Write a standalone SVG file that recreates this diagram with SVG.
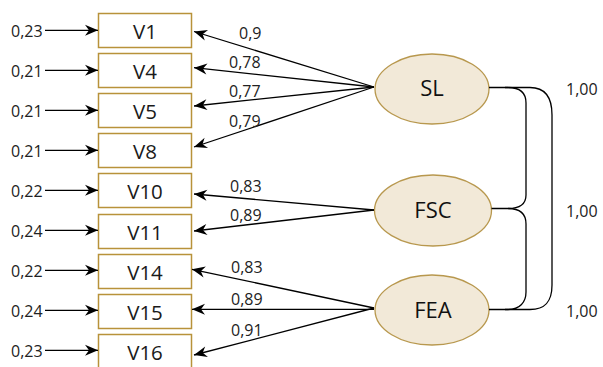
<svg xmlns="http://www.w3.org/2000/svg" width="603" height="367" viewBox="0 0 603 367">
  <style>
    .box { fill: #ffffff; stroke: #b8923a; stroke-width: 1.5; }
    .lat { fill: #f2e9d8; stroke: #b8984e; stroke-width: 1.3; }
    .vlab { font-family: "Open Sans", "Liberation Sans", sans-serif; font-size: 20.5px; fill: #1a1a1a; text-anchor: middle; }
    .llab { font-family: "Open Sans", "Liberation Sans", sans-serif; font-size: 22px; fill: #111; text-anchor: middle; }
    .num { font-family: "Open Sans", "Liberation Sans", sans-serif; font-size: 16px; fill: #222; }
    .edge { stroke: #000; stroke-width: 1.3; fill: none; marker-end: url(#arr); }
    .cov { stroke: #000; stroke-width: 1.3; fill: none; }
  </style>
  <defs>
    <marker id="arr" markerWidth="16" markerHeight="12" viewBox="-14 -6 16 12" refX="0" refY="0" orient="auto" markerUnits="userSpaceOnUse">
      <path d="M0,0 L-13,-5.5 L-9,0 L-13,5.5 Z" fill="#000"/>
    </marker>
  </defs>

  <!-- observed variables -->
  <g id="V1"><rect class="box" x="98.5" y="13.5" width="93" height="34"/><text class="vlab" x="145" y="38.7">V1</text></g>
  <g id="V4"><rect class="box" x="98.5" y="53.5" width="93" height="34"/><text class="vlab" x="145" y="78.7">V4</text></g>
  <g id="V5"><rect class="box" x="98.5" y="93.5" width="93" height="34"/><text class="vlab" x="145" y="118.7">V5</text></g>
  <g id="V8"><rect class="box" x="98.5" y="133.5" width="93" height="34"/><text class="vlab" x="145" y="158.7">V8</text></g>
  <g id="V10"><rect class="box" x="98.5" y="173.5" width="93" height="34"/><text class="vlab" x="145" y="198.7">V10</text></g>
  <g id="V11"><rect class="box" x="98.5" y="214.5" width="93" height="34"/><text class="vlab" x="145" y="239.7">V11</text></g>
  <g id="V14"><rect class="box" x="98.5" y="254.5" width="93" height="34"/><text class="vlab" x="145" y="279.7">V14</text></g>
  <g id="V15"><rect class="box" x="98.5" y="294.5" width="93" height="34"/><text class="vlab" x="145" y="319.7">V15</text></g>
  <g id="V16"><rect class="box" x="98.5" y="334.5" width="93" height="34"/><text class="vlab" x="145" y="359.7">V16</text></g>

  <!-- latent factors -->
  <g id="SL"><ellipse class="lat" cx="432" cy="89" rx="57" ry="35"/><text class="llab" x="432" y="96">SL</text></g>
  <g id="FSC"><ellipse class="lat" cx="433" cy="210.5" rx="58.5" ry="35.5"/><text class="llab" x="433" y="217.5">FSC</text></g>
  <g id="FEA"><ellipse class="lat" cx="432" cy="310" rx="57" ry="35"/><text class="llab" x="433" y="318">FEA</text></g>

  <!-- connectors -->
  <g id="connectors">
    <!-- error terms -->
    <line class="edge" x1="45" y1="30.3" x2="98" y2="30.3"/>
    <line class="edge" x1="45" y1="70.3" x2="98" y2="70.3"/>
    <line class="edge" x1="45" y1="110.3" x2="98" y2="110.3"/>
    <line class="edge" x1="45" y1="150.3" x2="98" y2="150.3"/>
    <line class="edge" x1="45" y1="190.3" x2="98" y2="190.3"/>
    <line class="edge" x1="45" y1="230.3" x2="98" y2="230.3"/>
    <line class="edge" x1="45" y1="270.3" x2="98" y2="270.3"/>
    <line class="edge" x1="45" y1="310.3" x2="98" y2="310.3"/>
    <line class="edge" x1="45" y1="350.3" x2="98" y2="350.3"/>
    <!-- factor loadings -->
    <line class="edge" x1="374" y1="87" x2="194" y2="31.5"/>
    <line class="edge" x1="374" y1="87" x2="194" y2="67.7"/>
    <line class="edge" x1="374" y1="87" x2="194" y2="106"/>
    <line class="edge" x1="374" y1="87" x2="194" y2="147"/>
    <line class="edge" x1="374" y1="210" x2="194" y2="194"/>
    <line class="edge" x1="374" y1="210" x2="194" y2="231"/>
    <line class="edge" x1="374" y1="308" x2="192" y2="269.3"/>
    <line class="edge" x1="374" y1="309.3" x2="192" y2="309.3"/>
    <line class="edge" x1="374" y1="308" x2="194" y2="355"/>
    <!-- covariances -->
    <path class="cov" d="M489,87.5 H508 C520,87.5 526,92 526,103 V195 C526,204 520,208.5 508,208.5 H491.5"/>
    <path class="cov" d="M508,208.5 C520,208.5 526,213 526,224 V292 C526,302 520,309.5 508,309.5 H489"/>
    <path class="cov" d="M505,87.5 H530 C545,87.5 552,97 552,115 V285 C552,302 545,309.5 530,309.5 H505"/>
  </g>

  <!-- error variances -->
  <g class="num">
    <text x="11" y="37.3">0,23</text>
    <text x="11" y="77.3">0,21</text>
    <text x="11" y="117.3">0,21</text>
    <text x="11" y="157.3">0,21</text>
    <text x="11" y="197.3">0,22</text>
    <text x="11" y="237.3">0,24</text>
    <text x="11" y="277.3">0,22</text>
    <text x="11" y="317.3">0,24</text>
    <text x="11" y="357.3">0,23</text>
  </g>

  <!-- loadings -->
  <g class="num">
    <text x="239" y="39">0,9</text>
    <text x="229" y="68.3">0,78</text>
    <text x="229" y="96.7">0,77</text>
    <text x="229" y="127.3">0,79</text>
    <text x="230" y="192">0,83</text>
    <text x="230" y="221">0,89</text>
    <text x="231" y="273.3">0,83</text>
    <text x="231" y="305">0,89</text>
    <text x="231" y="335.7">0,91</text>
  </g>

  <!-- factor variances -->
  <g class="num">
    <text x="566" y="95">1,00</text>
    <text x="566" y="216.7">1,00</text>
    <text x="566" y="316.7">1,00</text>
  </g>
</svg>
